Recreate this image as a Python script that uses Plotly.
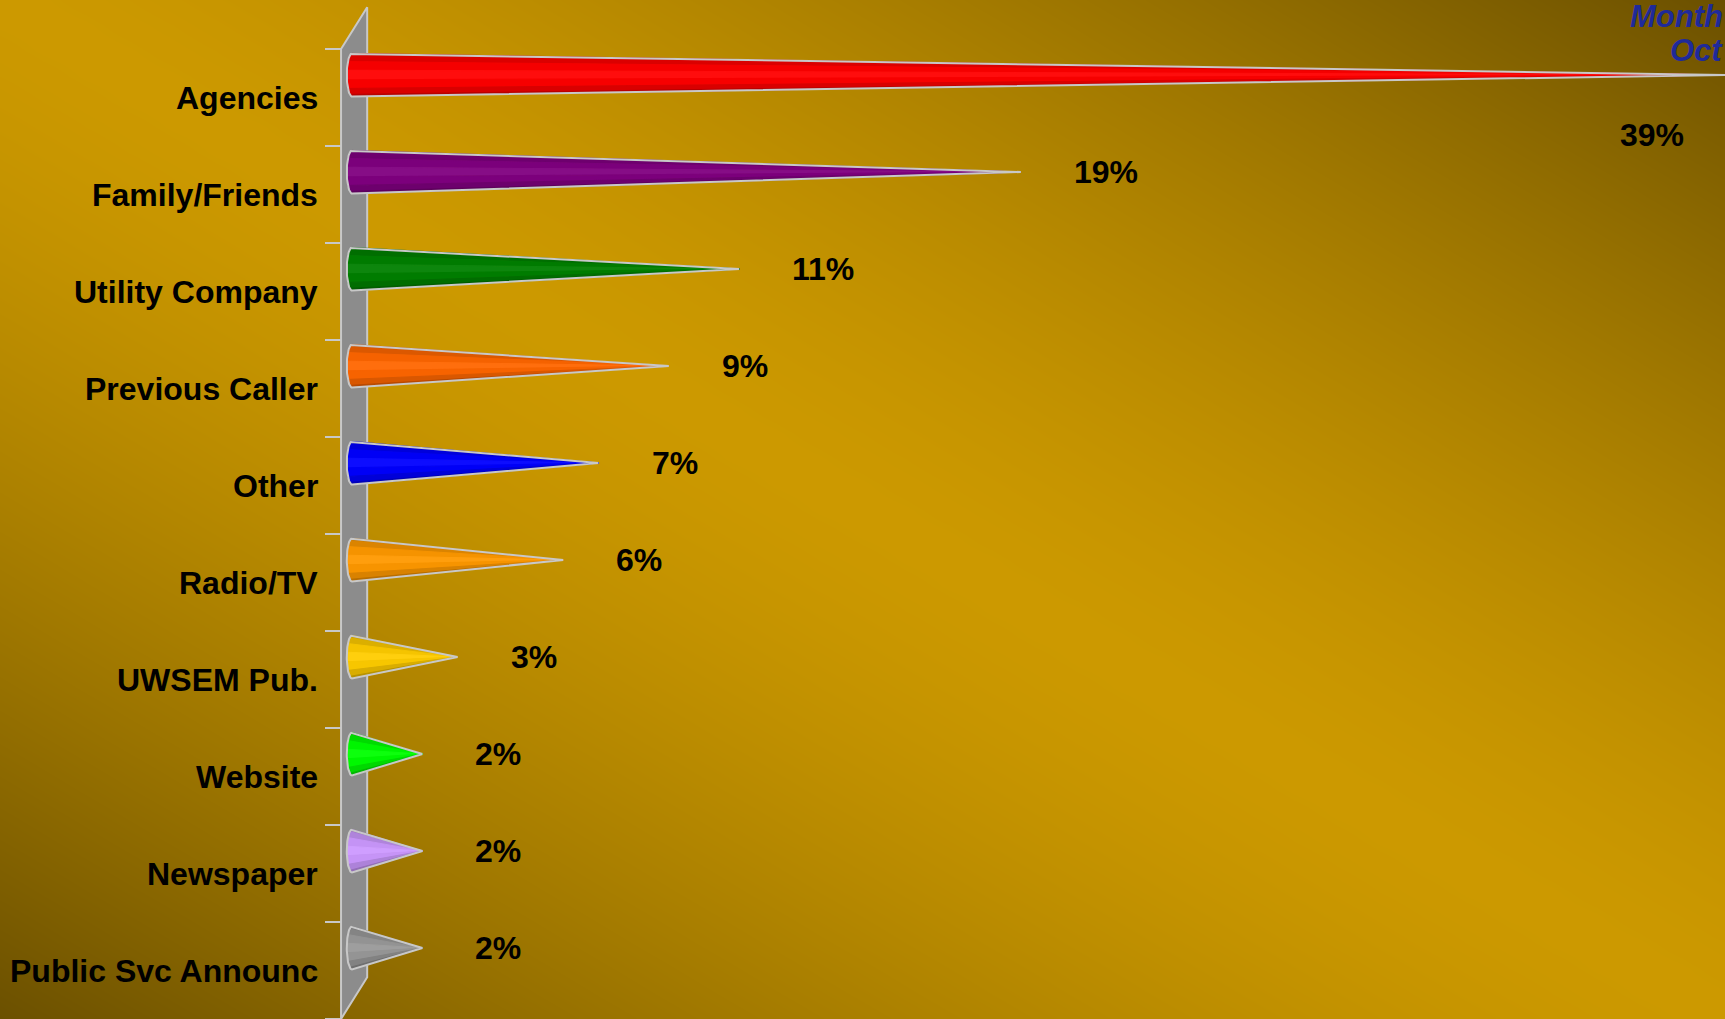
import numpy as np
import plotly.graph_objects as go

# ---------------- data ----------------
categories = ["Agencies", "Family/Friends", "Utility Company", "Previous Caller", "Other",
              "Radio/TV", "UWSEM Pub.", "Website", "Newspaper", "Public Svc Announc"]
percent_values = [39, 19, 11, 9, 7, 6, 3, 2, 2, 2]
cone_colors = ["#FF0000", "#800080", "#008000", "#FF6600", "#0000FF",
               "#FF9900", "#FFCC00", "#00FF00", "#CC99FF", "#999999"]
title_lines = ["Month", "Oct"]

# ---------------- style / geometry ----------------
W, H = 1725, 1019
X_RANGE = [-10.0, 39.0]          # value axis (percent)
Y_RANGE = [9.732, -0.773]        # category index axis (reversed)
HALF = 0.222                      # cone half height (category units)
BULGE = 0.15                      # base ellipse depth (value units)
OUTLINE = "#C8C8C8"
WALL_FILL = "#8C8C8C"
WALL_XL, WALL_XR = -0.3125, 0.43
WALL_DY = 0.43
TICK_OFF = 0.268
LABEL_DY = 0.24
FONT = "Liberation Sans, Arial, sans-serif"


def shade(hexcol, f):
    r, g, b = int(hexcol[1:3], 16), int(hexcol[3:5], 16), int(hexcol[5:7], 16)
    if f <= 1:
        r, g, b = r * f, g * f, b * f
    else:
        m = f - 1
        r, g, b = r + (255 - r) * m, g + (255 - g) * m, b + (255 - b) * m
    return "rgb(%d,%d,%d)" % (round(r), round(g), round(b))


fig = go.Figure()

# ---------------- background gradient ----------------
n = 41
grid = np.linspace(0, 1, n)
U, V = np.meshgrid(grid, grid)
d = np.abs(U - (1 - V))
Z = 1 - d ** 1.5
fig.add_trace(go.Heatmap(x=grid, y=grid, z=Z, zsmooth="best", zmin=0, zmax=1,
                         colorscale=[[0, "#6B5000"], [1, "#CC9900"]], showscale=False,
                         hoverinfo="skip", xaxis="x", yaxis="y"))

# ---------------- wall ----------------
ncat = len(categories)
wall_x = [WALL_XL, WALL_XR, WALL_XR, WALL_XL, WALL_XL]
wall_y = [-TICK_OFF, -TICK_OFF - WALL_DY, ncat - TICK_OFF - WALL_DY, ncat - TICK_OFF, -TICK_OFF]
fig.add_trace(go.Scatter(x=wall_x, y=wall_y, mode="lines", fill="toself", fillcolor=WALL_FILL,
                         line=dict(color=OUTLINE, width=2), hoverinfo="skip",
                         xaxis="x2", yaxis="y2"))

# ---------------- cones ----------------
shades = [0.74, 0.86, 0.96, 1.05, 0.97, 0.85, 0.72]
K = len(shades)
edges = np.linspace(-np.pi / 2, np.pi / 2, K + 1)
for i, (v, c) in enumerate(zip(percent_values, cone_colors)):
    for k in range(K):
        ph = np.linspace(edges[k], edges[k + 1], 8)
        xs = list(-BULGE * np.cos(ph)) + [v]
        ys = list(i + HALF * np.sin(ph)) + [i]
        xs.append(xs[0]); ys.append(ys[0])
        col = shade(c, shades[k])
        fig.add_trace(go.Scatter(x=xs, y=ys, mode="lines", fill="toself", fillcolor=col,
                                 line=dict(color=col, width=1), hoverinfo="skip",
                                 xaxis="x2", yaxis="y2"))
    ph = np.linspace(-np.pi / 2, np.pi / 2, 40)
    xs = [v] + list(-BULGE * np.cos(ph)) + [v]
    ys = [i] + list(i + HALF * np.sin(ph)) + [i]
    fig.add_trace(go.Scatter(x=xs, y=ys, mode="lines", line=dict(color=OUTLINE, width=2),
                             hoverinfo="skip", xaxis="x2", yaxis="y2"))

# ---------------- annotations ----------------
label_font = dict(family=FONT, size=32, color="black", weight=700)
ann = []
for i, name in enumerate(categories):
    ann.append(dict(x=-0.9, y=i + LABEL_DY, xref="x2", yref="y2", text=name, showarrow=False,
                    xanchor="right", yanchor="middle", font=label_font))
GAP = 1.45
for i, v in enumerate(percent_values):
    label = "%d%%" % v
    if v + GAP + 2.5 > X_RANGE[1]:
        ann.append(dict(x=v - 1.1, y=i + 0.62, xref="x2", yref="y2", text=label, showarrow=False,
                        xanchor="right", yanchor="middle", font=label_font))
    else:
        ann.append(dict(x=v + GAP, y=i, xref="x2", yref="y2", text=label, showarrow=False,
                        xanchor="left", yanchor="middle", font=label_font))

title_font = dict(family=FONT, size=31, color="#1F2A9A", weight=700, style="italic")
ann.append(dict(x=1.0, y=1 - 16 / H, xref="paper", yref="paper", text=title_lines[0],
                showarrow=False, xanchor="right", yanchor="middle", font=title_font))
ann.append(dict(x=1.0, y=1 - 51 / H, xref="paper", yref="paper", text=title_lines[1],
                showarrow=False, xanchor="right", yanchor="middle", font=title_font))

fig.update_layout(
    width=W, height=H, margin=dict(l=0, r=0, t=0, b=0),
    paper_bgcolor="#B08500", plot_bgcolor="rgba(0,0,0,0)", showlegend=False,
    xaxis=dict(domain=[0, 1], range=[0, 1], visible=False, fixedrange=True),
    yaxis=dict(domain=[0, 1], range=[0, 1], visible=False, fixedrange=True),
    xaxis2=dict(domain=[0, 1], range=X_RANGE, visible=False, anchor="y2", fixedrange=True),
    yaxis2=dict(domain=[0, 1], range=Y_RANGE, anchor="free", position=341 / W,
                showgrid=False, zeroline=False, showline=False, showticklabels=False,
                ticks="outside", ticklen=16, tickwidth=2, tickcolor=OUTLINE,
                tickmode="array", tickvals=[j - TICK_OFF for j in range(ncat + 1)],
                fixedrange=True),
    annotations=ann,
)

fig.write_html("out.html", config={"displayModeBar": False},
               post_script="document.body.style.margin='0';document.body.style.overflow='hidden';")
